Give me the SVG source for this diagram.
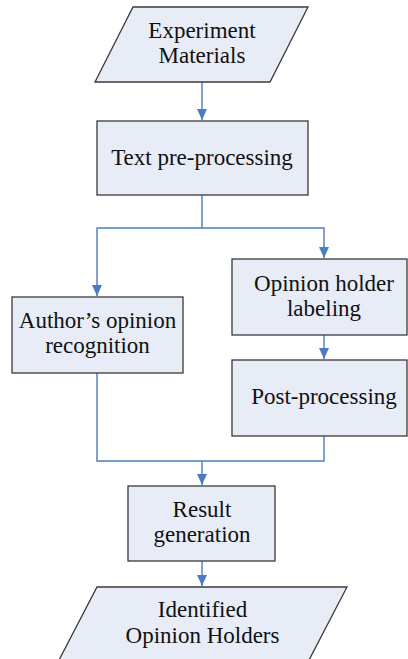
<svg xmlns="http://www.w3.org/2000/svg" width="408" height="659" viewBox="0 0 408 659">
  <style>
    .node { fill: #E7ECF7; stroke: #3A3A3A; stroke-width: 1.3; }
    .cap { font-family: 'Liberation Serif', serif; font-size: 23px; fill: #111; text-anchor: middle; }
    .conn { fill: none; stroke: #4A7CC4; stroke-width: 1.4; }
  </style>
  <defs>
    <marker id="arrow" markerUnits="userSpaceOnUse" markerWidth="12" markerHeight="10" refX="11" refY="5" orient="auto">
      <path d="M0,0 L11,5 L0,10 Z" fill="#4A7CC4"/>
    </marker>
  </defs>
  <rect width="408" height="659" fill="#FFFFFF"/>

  <g id="connectors">
    <line class="conn" x1="202" y1="82" x2="202" y2="120" marker-end="url(#arrow)"/>
    <polyline class="conn" points="202,195 202,228 97,228 97,296" marker-end="url(#arrow)"/>
    <polyline class="conn" points="202,228 324,228 324,258" marker-end="url(#arrow)"/>
    <line class="conn" x1="324" y1="335" x2="324" y2="359" marker-end="url(#arrow)"/>
    <polyline class="conn" points="97,373 97,461 324,461 324,436"/>
    <line class="conn" x1="202" y1="461" x2="202" y2="485" marker-end="url(#arrow)"/>
    <line class="conn" x1="202" y1="561" x2="202" y2="586" marker-end="url(#arrow)"/>
  </g>

  <g id="experiment-materials">
    <polygon class="node" points="133,7 308,7 270,82 95,82"/>
    <text class="cap" x="202" y="38">Experiment</text>
    <text class="cap" x="202" y="63">Materials</text>
  </g>

  <g id="text-preprocessing">
    <rect class="node" x="97" y="121" width="211" height="74"/>
    <text class="cap" x="202" y="165">Text pre-processing</text>
  </g>

  <g id="author-opinion-recognition">
    <rect class="node" x="12" y="297" width="171" height="76"/>
    <text class="cap" x="97.5" y="328">Author’s opinion</text>
    <text class="cap" x="97.5" y="353">recognition</text>
  </g>

  <g id="opinion-holder-labeling">
    <rect class="node" x="232" y="259" width="175" height="76"/>
    <text class="cap" x="324" y="291">Opinion holder</text>
    <text class="cap" x="324" y="316">labeling</text>
  </g>

  <g id="post-processing">
    <rect class="node" x="232" y="360" width="175" height="76"/>
    <text class="cap" x="324" y="404">Post-processing</text>
  </g>

  <g id="result-generation">
    <rect class="node" x="128" y="486" width="147" height="75"/>
    <text class="cap" x="202" y="517">Result</text>
    <text class="cap" x="202" y="542">generation</text>
  </g>

  <g id="identified-opinion-holders">
    <polygon class="node" points="97,587 347,587 308,662 58,662"/>
    <text class="cap" x="202.5" y="617">Identified</text>
    <text class="cap" x="202.5" y="643">Opinion Holders</text>
  </g>
</svg>
